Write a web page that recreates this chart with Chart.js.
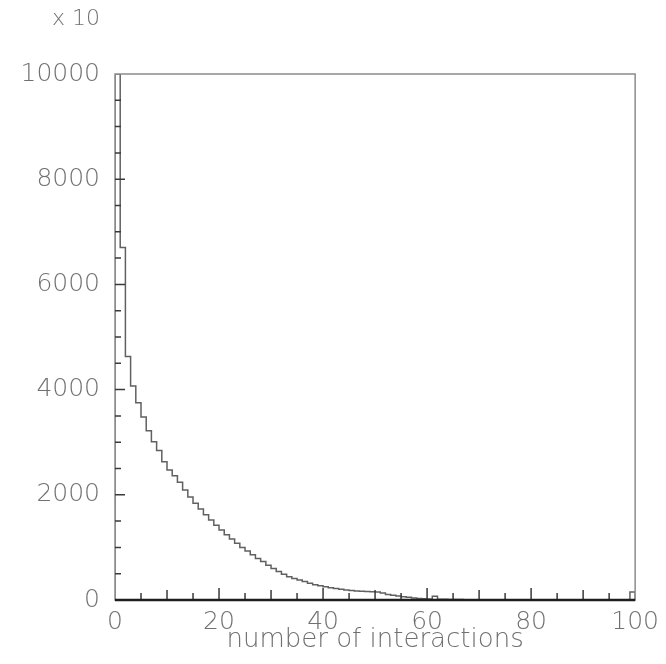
<!DOCTYPE html>
<html>
<head>
<meta charset="utf-8">
<script src="https://cdn.jsdelivr.net/npm/chart.js@4.4.1/dist/chart.umd.min.js"></script>
<style>
  html, body { margin: 0; padding: 0; background: #fff; }
</style>
</head>
<body>
<canvas id="grafica" width="666" height="664"></canvas>
<script>
// histogram: entries per bin (in units of 10), bins of width 1 starting at 0
var binInicio = 0;
var binAncho = 1;
var cuentas = [
  10000, 6700, 4630, 4070, 3750, 3480, 3220, 3010, 2840, 2630,
  2470, 2360, 2240, 2090, 1960, 1840, 1730, 1620, 1520, 1420,
  1330, 1240, 1160, 1080, 1000, 930, 860, 790, 730, 660,
  600, 540, 490, 440, 410, 380, 350, 320, 290, 270,
  250, 235, 220, 205, 190, 180, 170, 165, 160, 155,
  150, 135, 105, 90, 75, 60, 50, 40, 30, 25,
  20, 70, 15, 12, 10, 9, 8, 7, 7, 6,
  6, 5, 5, 5, 4, 4, 4, 3, 3, 3,
  3, 2, 2, 2, 2, 2, 2, 2, 1, 1,
  1, 1, 1, 1, 1, 1, 1, 1, 1, 150
];
var xTicks = [0, 20, 40, 60, 80, 100];
var yTicks = [0, 2000, 4000, 6000, 8000, 10000];
var xTitulo = 'number of interactions';
var factor = 'x 10';

var gris = '#707070';
var fuente = { family: 'DejaVu Sans', size: 25, weight: 200 };

// step outline: up from zero at the first edge, down to zero at the last one
var puntos = [{ x: binInicio, y: 0 }];
for (var i = 0; i < cuentas.length; i++) {
  puntos.push({ x: binInicio + i * binAncho, y: cuentas[i] });
}
var xFin = binInicio + cuentas.length * binAncho;
puntos.push({ x: xFin, y: cuentas[cuentas.length - 1] });
puntos.push({ x: xFin, y: 0 });

// frame, inward ticks and the multiplier label
var marco = {
  id: 'marco',
  afterDatasetsDraw: function(chart) {
    var ctx = chart.ctx;
    var a = chart.chartArea;
    var sx = chart.scales.x;
    var sy = chart.scales.y;
    var v, p, largo;

    ctx.save();
    ctx.strokeStyle = '#8c8c8c';
    ctx.lineWidth = 1.5;
    ctx.strokeRect(a.left, a.top, a.right - a.left, a.bottom - a.top);

    ctx.strokeStyle = '#3a3a3a';
    ctx.lineWidth = 1.5;
    ctx.beginPath();
    for (v = sx.min; v <= sx.max; v += 5) {
      if (v == sx.min || v == sx.max) continue;
      largo = (v % 20 == 0) ? 12 : ((v % 10 == 0) ? 10 : 7);
      p = sx.getPixelForValue(v);
      ctx.moveTo(p, a.bottom);
      ctx.lineTo(p, a.bottom - largo);
    }
    for (v = sy.min; v <= sy.max; v += 500) {
      if (v == sy.min || v == sy.max) continue;
      largo = (v % 2000 == 0) ? 10 : 6;
      p = sy.getPixelForValue(v);
      ctx.moveTo(a.left, p);
      ctx.lineTo(a.left + largo, p);
    }
    ctx.stroke();

    // bottom axis is drawn heavier
    ctx.strokeStyle = '#1e1e1e';
    ctx.lineWidth = 2.5;
    ctx.beginPath();
    ctx.moveTo(a.left, a.bottom);
    ctx.lineTo(a.right, a.bottom);
    ctx.stroke();

    ctx.fillStyle = gris;
    ctx.font = fuente.weight + ' 22px "' + fuente.family + '"';
    ctx.textAlign = 'right';
    ctx.textBaseline = 'middle';
    ctx.fillText(factor, a.left - 15, 19);
    ctx.restore();
  }
};

function sinComas(valor) { return String(valor); }

var chart = new Chart(document.getElementById('grafica').getContext('2d'), {
  type: 'line',
  data: {
    datasets: [{
      data: puntos,
      stepped: 'before',
      borderColor: '#606060',
      borderWidth: 1.5,
      pointRadius: 0,
      fill: false
    }]
  },
  options: {
    responsive: false,
    animation: false,
    layout: { padding: { top: 74, right: 26, left: 0, bottom: 0 } },
    plugins: {
      legend: { display: false },
      tooltip: { enabled: false }
    },
    scales: {
      x: {
        type: 'linear',
        min: xTicks[0],
        max: xTicks[xTicks.length - 1],
        afterBuildTicks: function(scale) {
          scale.ticks = xTicks.map(function(v) { return { value: v }; });
        },
        afterFit: function(scale) { scale.height = 64; },
        grid: { display: false, drawTicks: false },
        border: { display: false },
        ticks: { color: gris, font: fuente, padding: 7, maxRotation: 0, autoSkip: false, callback: sinComas },
        title: {
          display: true,
          text: xTitulo,
          color: gris,
          font: { family: fuente.family, size: 26, weight: 200 },
          padding: { top: 0, bottom: 8 }
        }
      },
      y: {
        min: yTicks[0],
        max: yTicks[yTicks.length - 1],
        afterBuildTicks: function(scale) {
          scale.ticks = yTicks.map(function(v) { return { value: v }; });
        },
        afterFit: function(scale) { scale.width = 115; },
        grid: { display: false, drawTicks: false },
        border: { display: false },
        ticks: { color: gris, font: fuente, padding: 15, callback: sinComas }
      }
    }
  },
  plugins: [marco]
});
</script>
</body>
</html>
